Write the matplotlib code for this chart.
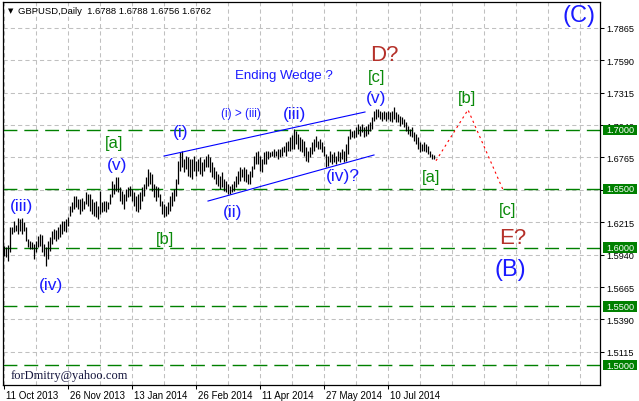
import matplotlib
matplotlib.use('Agg')
import matplotlib.pyplot as plt
import matplotlib.transforms as mtransforms
from matplotlib.patches import Rectangle

plt.rcParams['font.family'] = ['Liberation Sans', 'DejaVu Sans']

# GBPUSD daily bars, 11 Oct 2013 .. 11 Aug 2014
highs = [
    1.6013, 1.6004, 1.6021, 1.6174, 1.6174, 1.6225, 1.6191, 1.6251, 1.6242, 1.6251,
    1.6217, 1.6174, 1.6072, 1.6055, 1.6047, 1.6030, 1.6055, 1.6098, 1.6115, 1.6106,
    1.6030, 1.6004, 1.6055, 1.6089, 1.6140, 1.6157, 1.6149, 1.6174, 1.6200, 1.6225,
    1.6225, 1.6242, 1.6259, 1.6353, 1.6387, 1.6437, 1.6437, 1.6412, 1.6412, 1.6420,
    1.6395, 1.6471, 1.6454, 1.6454, 1.6412, 1.6387, 1.6395, 1.6353, 1.6480, 1.6387,
    1.6395, 1.6395, 1.6387, 1.6454, 1.6565, 1.6539, 1.6599, 1.6599, 1.6514, 1.6480,
    1.6454, 1.6497, 1.6514, 1.6522, 1.6497, 1.6471, 1.6437, 1.6454, 1.6471, 1.6514,
    1.6539, 1.6599, 1.6667, 1.6641, 1.6624, 1.6539, 1.6522, 1.6514, 1.6454, 1.6395,
    1.6370, 1.6353, 1.6387, 1.6437, 1.6471, 1.6497, 1.6582, 1.6735, 1.6811, 1.6819,
    1.6752, 1.6777, 1.6769, 1.6752, 1.6752, 1.6777, 1.6735, 1.6752, 1.6769, 1.6726,
    1.6752, 1.6777, 1.6794, 1.6769, 1.6726, 1.6684, 1.6650, 1.6624, 1.6607, 1.6641,
    1.6582, 1.6565, 1.6539, 1.6522, 1.6539, 1.6565, 1.6607, 1.6650, 1.6684, 1.6667,
    1.6684, 1.6667, 1.6624, 1.6650, 1.6692, 1.6777, 1.6811, 1.6819, 1.6777, 1.6752,
    1.6811, 1.6819, 1.6819, 1.6811, 1.6819, 1.6836, 1.6819, 1.6836, 1.6836, 1.6853,
    1.6862, 1.6896, 1.6904, 1.6938, 1.6955, 1.7006, 1.6989, 1.6964, 1.6938, 1.6921,
    1.6904, 1.6853, 1.6819, 1.6853, 1.6896, 1.6921, 1.6947, 1.6904, 1.6921, 1.6896,
    1.6862, 1.6794, 1.6777, 1.6819, 1.6794, 1.6811, 1.6777, 1.6819, 1.6811, 1.6836,
    1.6819, 1.6879, 1.6947, 1.7006, 1.6989, 1.6998, 1.7023, 1.7049, 1.7032, 1.7049,
    1.7023, 1.7032, 1.7049, 1.7066, 1.7108, 1.7159, 1.7176, 1.7176, 1.7159, 1.7151,
    1.7159, 1.7151, 1.7159, 1.7151, 1.7159, 1.7193, 1.7151, 1.7134, 1.7117, 1.7108,
    1.7091, 1.7066, 1.7032, 1.7006, 1.7023, 1.6981, 1.6964, 1.6938, 1.6896, 1.6879,
    1.6896, 1.6879, 1.6862, 1.6819, 1.6794, 1.6788,
]
lows = [
    1.5928, 1.5920, 1.5886, 1.5962, 1.6115, 1.6132, 1.6140, 1.6115, 1.6140, 1.6115,
    1.6140, 1.6055, 1.6004, 1.5987, 1.5987, 1.5903, 1.5962, 1.6004, 1.6013, 1.5962,
    1.5928, 1.5843, 1.5903, 1.5970, 1.6030, 1.6072, 1.6055, 1.6072, 1.6089, 1.6115,
    1.6140, 1.6132, 1.6183, 1.6268, 1.6302, 1.6327, 1.6344, 1.6327, 1.6285, 1.6310,
    1.6327, 1.6370, 1.6353, 1.6310, 1.6285, 1.6268, 1.6259, 1.6242, 1.6285, 1.6302,
    1.6310, 1.6302, 1.6327, 1.6370, 1.6429, 1.6454, 1.6480, 1.6471, 1.6395, 1.6370,
    1.6327, 1.6395, 1.6429, 1.6437, 1.6395, 1.6353, 1.6310, 1.6302, 1.6327, 1.6395,
    1.6437, 1.6497, 1.6522, 1.6539, 1.6480, 1.6429, 1.6395, 1.6429, 1.6353, 1.6285,
    1.6259, 1.6268, 1.6285, 1.6310, 1.6353, 1.6395, 1.6437, 1.6539, 1.6650, 1.6684,
    1.6641, 1.6667, 1.6607, 1.6599, 1.6582, 1.6650, 1.6607, 1.6650, 1.6624, 1.6607,
    1.6650, 1.6684, 1.6684, 1.6641, 1.6599, 1.6582, 1.6539, 1.6522, 1.6497, 1.6514,
    1.6480, 1.6471, 1.6454, 1.6454, 1.6471, 1.6480, 1.6514, 1.6539, 1.6565, 1.6599,
    1.6565, 1.6556, 1.6539, 1.6539, 1.6599, 1.6667, 1.6709, 1.6709, 1.6650, 1.6641,
    1.6709, 1.6709, 1.6752, 1.6769, 1.6777, 1.6769, 1.6777, 1.6752, 1.6769, 1.6777,
    1.6811, 1.6777, 1.6819, 1.6819, 1.6836, 1.6836, 1.6879, 1.6836, 1.6819, 1.6811,
    1.6777, 1.6735, 1.6726, 1.6769, 1.6794, 1.6819, 1.6853, 1.6836, 1.6836, 1.6811,
    1.6777, 1.6684, 1.6692, 1.6726, 1.6709, 1.6726, 1.6709, 1.6735, 1.6726, 1.6752,
    1.6726, 1.6735, 1.6794, 1.6921, 1.6938, 1.6930, 1.6938, 1.6964, 1.6947, 1.6981,
    1.6938, 1.6947, 1.6964, 1.6989, 1.7006, 1.7074, 1.7091, 1.7108, 1.7091, 1.7074,
    1.7091, 1.7074, 1.7091, 1.7074, 1.7066, 1.7091, 1.7066, 1.7066, 1.7032, 1.7049,
    1.7023, 1.6989, 1.6964, 1.6947, 1.6938, 1.6904, 1.6879, 1.6836, 1.6811, 1.6819,
    1.6819, 1.6811, 1.6794, 1.6769, 1.6752, 1.6756,
]

date_labels = ['11 Oct 2013', '26 Nov 2013', '13 Jan 2014', '26 Feb 2014',
               '11 Apr 2014', '27 May 2014', '10 Jul 2014']
price_ticks = [1.5115, 1.5390, 1.5665, 1.5940, 1.6215, 1.6490,
               1.6765, 1.7040, 1.7315, 1.7590, 1.7865]
levels = [1.7000, 1.6500, 1.6000, 1.5500, 1.5000]

# wedge boundaries and projected path: (bar index, price)
wedge_up_x, wedge_up_y = [80.25, 180.75], [1.6777, 1.7151]
wedge_lo_x, wedge_lo_y = [102.25, 185.25], [1.6395, 1.6786]
proj_x, proj_y = [216.25, 232.25, 249.75], [1.6737, 1.7170, 1.6491]

W, H = 639, 402
fig = plt.figure(figsize=(W / 100, H / 100), dpi=100)
fig.patch.set_facecolor('white')
ax = fig.add_axes([3 / W, 16 / H, 597 / W, 383 / H])
ax.set_xlim(-0.25, 298.25)
ax.set_ylim(1.4833, 1.8085)

grid_kw = dict(color='#c0c0c0', lw=0.75, linestyle=(0, (4, 3)))
ax.set_xticks(range(0, 193, 32))
ax.set_xticklabels(date_labels)
ax.set_xticks(range(16, 298, 16), minor=True)
ax.set_yticks(price_ticks)
ax.set_yticklabels([f'{v:.4f}' for v in price_ticks])
ax.yaxis.tick_right()
ax.grid(True, which='both', axis='x', **grid_kw)
ax.grid(True, which='major', axis='y', **grid_kw)
ax.set_axisbelow(True)
ax.tick_params(axis='x', which='minor', length=0)
ax.tick_params(axis='x', which='major', length=4 * 0.72, width=0.75, pad=0.5, labelsize=7)
ax.tick_params(axis='y', length=4 * 0.72, width=0.75, pad=1.5, labelsize=6.6)
off = mtransforms.ScaledTranslation(1.5 / 72, 0, fig.dpi_scale_trans)
for lab in ax.get_xticklabels():
    lab.set_ha('left')
    lab.set_transform(lab.get_transform() + off)
for s in ax.spines.values():
    s.set_linewidth(0.9)
    s.set_color('black')

# horizontal levels with green price boxes
btrans = mtransforms.blended_transform_factory(ax.transAxes, ax.transData)
for lv in levels:
    ax.axhline(lv, color='#008000', lw=1.0, linestyle=(0, (10, 5)), zorder=1.2)
    ax.add_patch(Rectangle((1.005, lv - 0.0043), 0.057, 0.0086, transform=btrans,
                           facecolor='#008000', edgecolor='none', clip_on=False, zorder=1))
    ax.text(1.0 + 6 / 597, lv, f'{lv:.4f}', transform=btrans, ha='left', va='center',
            color='white', fontsize=6.6, clip_on=False, zorder=1.1)

# price bars
ax.vlines(range(len(highs)), lows, highs, color='black', lw=0.9, zorder=3)

ax.plot(wedge_up_x, wedge_up_y, color='#0000ff', lw=0.8, zorder=3)
ax.plot(wedge_lo_x, wedge_lo_y, color='#0000ff', lw=0.8, zorder=3)
ax.plot(proj_x, proj_y, color='red', lw=0.8, linestyle=(0, (2, 3)), zorder=3)

blue = '#1a1aff'
green = '#0a8a0a'
red = '#b5312a'
labels = [
    ('(iii)', 9, 1.6357, blue, 12.5), ('(iv)', 23.75, 1.5690, blue, 12.5),
    ('[a]', 55.5, 1.6892, green, 12), ('(v)', 57, 1.6705, blue, 12.5),
    ('[b]', 80.75, 1.6081, green, 12), ('(i)', 88.75, 1.6989, blue, 12.5),
    ('Ending Wedge ?', 140, 1.7461, blue, 9.5), ('(i) > (iii)', 118.5, 1.7142, blue, 8.5),
    ('(iii)', 145.75, 1.7142, blue, 12.5), ('(ii)', 114.75, 1.6302, blue, 12.5),
    ('(iv)?', 169.75, 1.6616, blue, 12.5), ('(v)', 186.25, 1.7278, blue, 12.5),
    ('[c]', 186.75, 1.7456, green, 12), ('D?', 190.25, 1.7643, red, 16),
    ('[a]', 213.75, 1.6607, green, 12), ('[b]', 231.75, 1.7278, green, 12),
    ('[c]', 252.25, 1.6319, green, 12), ('E?', 254.75, 1.6089, red, 16),
    ('(B)', 253.25, 1.5818, blue, 17), ('(C)', 287.75, 1.7974, blue, 17),
]
for txt, x, y, c, fs in labels:
    ax.text(x, y, txt, color=c, fontsize=fs, ha='center', va='center', zorder=4)

fig.text(8 / W, 1 - 11 / H, '\u25bc', fontsize=5, va='center', family=['DejaVu Sans'])
fig.text(18 / W, 1 - 11 / H, 'GBPUSD,Daily  1.6788 1.6788 1.6756 1.6762',
         fontsize=6.8, va='center', color='black')
fig.text(11 / W, 1 - 376 / H, 'forDmitry@yahoo.com', fontsize=9, va='center',
         family=['Liberation Serif'], color='#14143c')

fig.savefig('out.png', dpi=100)
